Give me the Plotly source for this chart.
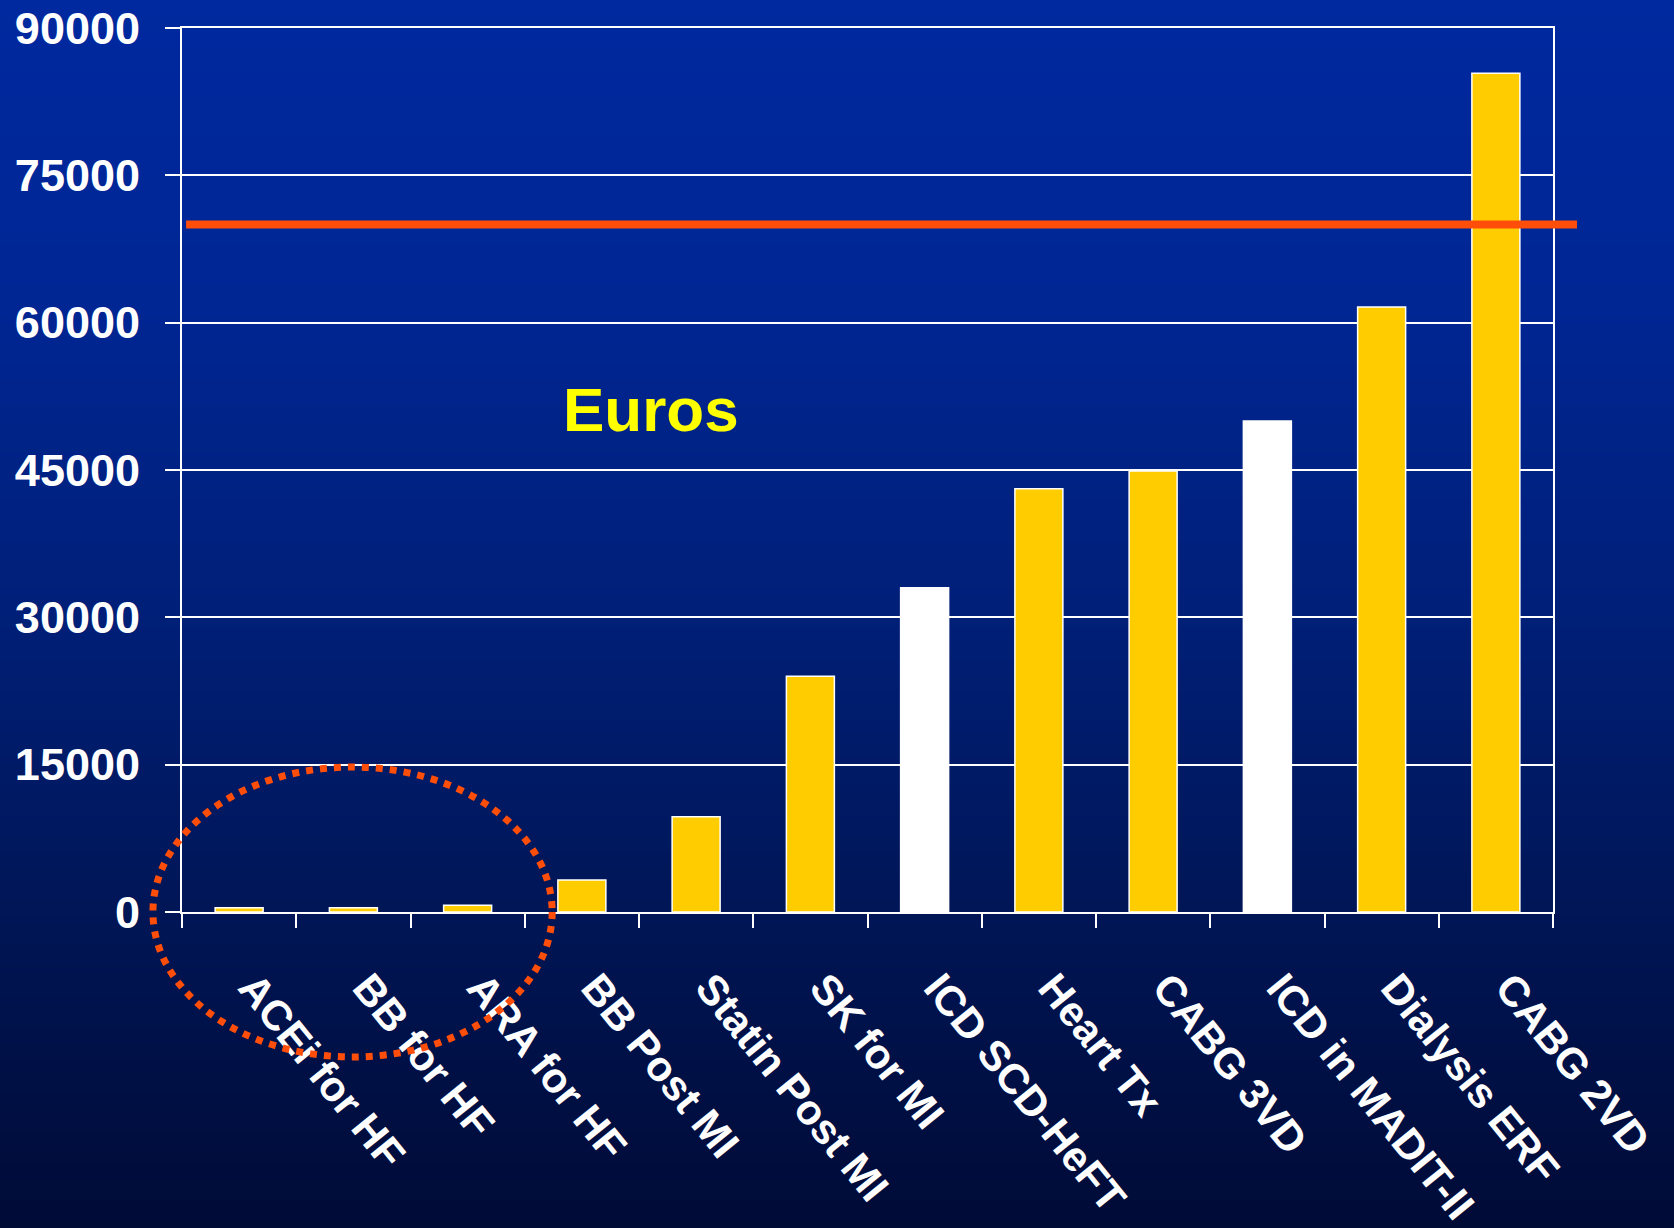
import base64
import struct
import zlib

import plotly.graph_objects as go

# Cost per life-year gained, in euros
categories = [
    "ACEi for HF", "BB for HF", "ARA for HF", "BB Post MI", "Statin Post MI",
    "SK for MI", "ICD SCD-HeFT", "Heart Tx", "CABG 3VD", "ICD in MADIT-II",
    "Dialysis ERF", "CABG 2VD",
]
costs = [440, 440, 680, 3260, 9700, 24000, 33000, 43100, 44900, 50000, 61600, 85400]
is_icd = [False, False, False, False, False, False, True, False, False, True, False, False]
threshold = 70000
y_max = 90000
y_step = 15000

W, H = 1674, 1228
M_L, M_R, M_T, M_B = 182, 121, 28, 316

YELLOW = "#FFCC00"
WHITE = "#FFFFFF"
RED = "#FF4E0A"


def gradient_png(width, height, stops):
    """Build a small vertical gradient PNG as a data URI."""
    rows = b""
    for i in range(height):
        t = i / (height - 1)
        for (t0, c0), (t1, c1) in zip(stops[:-1], stops[1:]):
            if t0 <= t <= t1:
                f = (t - t0) / (t1 - t0) if t1 > t0 else 0
                px = bytes(int(round(a + (b - a) * f)) for a, b in zip(c0, c1))
                break
        rows += b"\x00" + px * width

    def chunk(tag, data):
        c = struct.pack(">I", len(data)) + tag + data
        return c + struct.pack(">I", zlib.crc32(tag + data) & 0xFFFFFFFF)

    png = b"\x89PNG\r\n\x1a\n"
    png += chunk(b"IHDR", struct.pack(">IIBBBBB", width, height, 8, 2, 0, 0, 0))
    png += chunk(b"IDAT", zlib.compress(rows))
    png += chunk(b"IEND", b"")
    return "data:image/png;base64," + base64.b64encode(png).decode()


bg = gradient_png(
    16,
    256,
    [
        (0.00, (0, 41, 160)),
        (0.25, (0, 38, 148)),
        (0.50, (0, 31, 120)),
        (0.75, (0, 21, 84)),
        (1.00, (0, 10, 52)),
    ],
)

n = len(categories)
xs = list(range(n))
bar_colors = [WHITE if icd else YELLOW for icd in is_icd]
boundaries = [i - 0.5 for i in range(n + 1)]
label_pos = [x + 0.12 for x in xs]

plot_w = W - M_L - M_R
plot_h = H - M_T - M_B
bleed = 20  # background image overshoots the page edges by this many px

fig = go.Figure()
fig.add_trace(
    go.Bar(
        x=xs,
        y=costs,
        width=0.42,
        marker=dict(color=bar_colors, line=dict(color=WHITE, width=1.5)),
        hoverinfo="skip",
    )
)
# invisible trace that carries the category-boundary tick axis
fig.add_trace(
    go.Scatter(x=boundaries, y=[0] * len(boundaries), xaxis="x2", mode="markers",
               marker=dict(opacity=0), hoverinfo="skip", showlegend=False)
)

axis_font = dict(family="Liberation Sans, Arial, sans-serif", color=WHITE, weight="bold")

fig.update_layout(
    width=W,
    height=H,
    margin=dict(l=M_L, r=M_R, t=M_T, b=M_B, pad=0, autoexpand=False),
    paper_bgcolor="#000A34",
    plot_bgcolor="rgba(0,0,0,0)",
    showlegend=False,
    bargap=0.58,
    images=[
        dict(
            source=bg,
            xref="paper", yref="paper",
            x=-(M_L + bleed) / plot_w, y=1 + (M_T + bleed) / plot_h,
            sizex=(W + 2 * bleed) / plot_w, sizey=(H + 2 * bleed) / plot_h,
            sizing="stretch", layer="below",
            xanchor="left", yanchor="top",
        )
    ],
    xaxis=dict(
        range=[-0.5, n - 0.5],
        tickmode="array",
        tickvals=label_pos,
        ticktext=categories,
        tickangle=51,
        ticks="",
        ticklabelstandoff=32,
        tickfont=dict(size=42, **axis_font),
        showgrid=False,
        zeroline=False,
        showline=True,
        mirror=True,
        linecolor=WHITE,
        linewidth=2,
        automargin=False,
    ),
    xaxis2=dict(
        overlaying="x",
        anchor="y",
        side="bottom",
        range=[-0.5, n - 0.5],
        tickmode="array",
        tickvals=boundaries,
        ticks="outside",
        ticklen=15,
        tickwidth=2,
        tickcolor=WHITE,
        showticklabels=False,
        showgrid=False,
        zeroline=False,
        showline=False,
        automargin=False,
    ),
    yaxis=dict(
        range=[0, y_max],
        tick0=0,
        dtick=y_step,
        tickformat="d",
        ticks="outside",
        ticklen=15,
        tickwidth=2,
        tickcolor=WHITE,
        ticklabelstandoff=16,
        tickfont=dict(size=45, **axis_font),
        showgrid=True,
        gridcolor=WHITE,
        gridwidth=2,
        zeroline=False,
        showline=True,
        linecolor=WHITE,
        linewidth=2,
        mirror=True,
        automargin=False,
    ),
    annotations=[
        dict(
            text="<b>Euros</b>",
            xref="paper", yref="paper",
            x=0.342, y=0.568,
            xanchor="center", yanchor="middle",
            showarrow=False,
            font=dict(family="Liberation Sans, Arial, sans-serif", size=62, color="#FFFF00"),
        )
    ],
    shapes=[
        # cost-effectiveness threshold
        dict(
            type="line",
            xref="paper", yref="y",
            x0=0.003, x1=1.0175,
            y0=threshold, y1=threshold,
            line=dict(color=RED, width=8),
            layer="above",
        ),
        # highlight of the heart-failure drugs
        dict(
            type="circle",
            xref="paper", yref="paper",
            x0=-0.0212, x1=0.270,
            y0=-0.164, y1=0.164,
            line=dict(color=RED, width=7, dash="dot"),
            layer="above",
        ),
    ],
)

fig.write_html("out.html")
